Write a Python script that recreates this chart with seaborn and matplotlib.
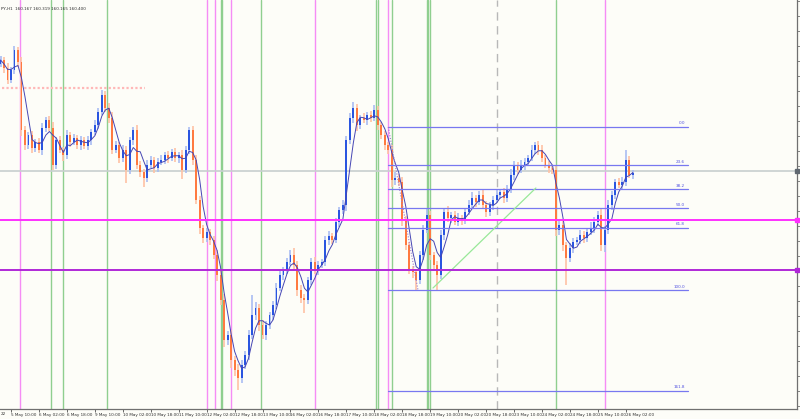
import numpy as np
import pandas as pd
import matplotlib
matplotlib.use("Agg")
import matplotlib.pyplot as plt
import seaborn as sns

# ---------------- data ----------------
header_text = "PY,H1  160.167 160.319 160.165 160.400"
edge_label = "22"
first_open = 162.45
bar_start_hour = -6      # hours from 5 May 10:00 of first 2h bar
bar_step = 2
closes = [
    162.52, 162.36, 162.12, 162.32, 162.72, 162.48, 161.12, 160.82, 161.02, 160.76,
    160.88, 160.72, 161.16, 161.32, 161.16, 160.42, 160.92, 160.72, 160.62, 161.02,
    160.88, 160.96, 160.82, 160.92, 160.80, 160.92, 161.08, 161.22, 161.48, 161.82,
    161.56, 161.36, 160.72, 160.82, 160.56, 160.72, 160.32, 160.92, 161.12, 160.42,
    160.28, 160.16, 160.42, 160.52, 160.36, 160.48, 160.52, 160.62, 160.56, 160.68,
    160.56, 160.62, 160.32, 160.72, 161.12, 160.52, 159.72, 159.16, 158.96, 159.08,
    158.92, 158.62, 158.22, 157.72, 156.92, 157.02, 156.52, 156.32, 156.16, 156.42,
    156.62, 157.02, 157.42, 157.56, 157.22, 157.02, 157.22, 157.42, 157.62, 157.96,
    158.22, 158.32, 158.48, 158.62, 158.42, 157.92, 157.76, 157.72, 158.12, 158.48,
    158.32, 158.42, 158.48, 158.92, 159.00, 158.92, 159.28, 159.52, 159.62, 160.92,
    161.36, 161.56, 161.22, 161.36, 161.32, 161.42, 161.36, 161.52, 161.22, 161.02,
    160.82, 160.72, 160.12, 160.16, 160.08, 159.32, 158.82, 158.32, 158.28, 158.12,
    158.62, 159.12, 159.42, 158.62, 158.42, 158.22, 159.02, 159.48, 159.36, 159.42,
    159.28, 159.36, 159.32, 159.48, 159.62, 159.76, 159.68, 159.82, 159.62, 159.48,
    159.62, 159.72, 159.82, 159.88, 159.76, 159.92, 160.22, 160.42, 160.32, 160.42,
    160.48, 160.56, 160.72, 160.82, 160.72, 160.56, 160.42, 160.36, 160.32, 159.12,
    159.22, 158.82, 158.56, 158.76, 158.88, 158.92, 159.02, 158.96, 159.08, 159.16,
    159.28, 159.42, 158.82, 159.12, 159.62, 159.82, 160.08, 160.02, 160.08, 160.52,
    160.22, 160.26,
]
wick_up = [  # hundredths of a yen above the body
    8, 6, 10, 6, 8, 6, 10, 8, 6, 8,
    6, 8, 10, 6, 8, 12, 6, 8, 6, 10,
    6, 8, 6, 8, 6, 8, 6, 10, 8, 10,
    8, 10, 12, 8, 6, 10, 8, 6, 6, 10,
    8, 6, 10, 8, 6, 8, 10, 6, 8, 6,
    8, 6, 10, 8, 6, 8, 10, 8, 6, 8,
    6, 8, 10, 8, 12, 8, 10, 8, 12, 10,
    8, 10, 40, 12, 8, 10, 8, 6, 8, 10,
    8, 6, 8, 10, 14, 8, 10, 8, 6, 8,
    10, 8, 6, 8, 10, 6, 8, 6, 10, 8,
    10, 12, 8, 6, 10, 6, 8, 10, 8, 6,
    8, 6, 10, 12, 8, 10, 8, 6, 8, 6,
    8, 10, 12, 8, 6, 8, 10, 8, 12, 6,
    8, 10, 6, 8, 10, 12, 6, 8, 10, 8,
    6, 8, 10, 6, 8, 10, 12, 8, 6, 10,
    8, 6, 10, 6, 8, 10, 6, 8, 6, 8,
    10, 8, 6, 10, 8, 6, 10, 8, 6, 12,
    10, 8, 14, 8, 10, 8, 6, 8, 10, 20,
    8, 6,
]
wick_dn = [  # hundredths of a yen below the body
    6, 10, 8, 6, 8, 10, 12, 10, 8, 10,
    8, 6, 10, 8, 6, 10, 8, 6, 12, 8,
    10, 6, 8, 10, 6, 8, 10, 6, 8, 6,
    8, 10, 8, 6, 10, 8, 26, 8, 10, 8,
    10, 18, 8, 6, 10, 8, 6, 8, 10, 6,
    8, 10, 18, 6, 8, 10, 8, 12, 10, 8,
    10, 8, 12, 10, 14, 10, 16, 12, 24, 10,
    8, 10, 8, 10, 12, 8, 10, 8, 10, 8,
    6, 10, 8, 6, 10, 12, 10, 26, 8, 10,
    8, 10, 6, 8, 10, 8, 6, 10, 8, 12,
    8, 10, 12, 8, 6, 10, 8, 6, 10, 8,
    10, 8, 14, 10, 8, 12, 10, 8, 12, 20,
    8, 10, 6, 10, 12, 30, 8, 10, 8, 10,
    6, 8, 10, 8, 6, 8, 10, 6, 8, 10,
    8, 10, 6, 8, 10, 8, 6, 10, 8, 6,
    10, 8, 6, 8, 10, 8, 6, 10, 8, 12,
    10, 12, 54, 8, 10, 6, 8, 10, 8, 6,
    10, 8, 12, 14, 8, 10, 8, 6, 10, 8,
    6, 8,
]
tick_labels = ["5 May 10:00", "6 May 02:00", "6 May 18:00", "9 May 10:00", "10 May 02:00",
               "10 May 18:00", "11 May 10:00", "12 May 02:00", "12 May 18:00", "13 May 10:00",
               "16 May 02:00", "16 May 18:00", "17 May 10:00", "18 May 02:00", "18 May 18:00",
               "19 May 10:00", "20 May 02:00", "20 May 18:00", "23 May 10:00", "24 May 02:00",
               "24 May 18:00", "25 May 10:00", "26 May 02:00"]
tick_hours = list(range(0, 16 * len(tick_labels), 16))
green_vlines = [23, 30, 55, 120, 121, 143, 209, 210, 218, 238, 239, 240, 312]
pink_vlines = [5, 112, 117, 126, 174, 216, 340]
dashed_vline = 278
fib_labels = ["0.0", "23.6", "38.2", "50.0", "61.8", "100.0", "161.8"]
fib_pcts = [0.0, 23.6, 38.2, 50.0, 61.8, 100.0, 161.8]
fib_high, fib_low = 161.18, 157.92
fib_start, fib_end = 216, 387.5
magenta_level = 159.32
purple_level = 158.32
bid_level = 160.30
dotted_level, dotted_from, dotted_to = 161.96, -5, 77
trend_hours = [241.6, 300.5]
trend_prices = [157.96, 159.96]
ma_period = 4
y_min, y_max = 155.54, 163.72
x_min, x_max = -6.3, 450

# ---------------- build table ----------------
n = len(closes)
hours = [bar_start_hour + bar_step * i for i in range(n)]
opens = [first_open] + closes[:-1]
df = pd.DataFrame({"hour": hours, "open": opens, "close": closes,
                   "up": wick_up, "dn": wick_dn})
df["top"] = df[["open", "close"]].max(axis=1)
df["bot"] = df[["open", "close"]].min(axis=1)
df["high"] = df["top"] + df["up"] / 100.0
df["low"] = df["bot"] - df["dn"] / 100.0
df["bull"] = df["close"] >= df["open"]
df["ma"] = df["close"].rolling(ma_period, min_periods=1).mean()

# ---------------- figure ----------------
sns.set_theme(style="white")
plt.rcParams["font.family"] = ["DejaVu Sans"]
bg = "#fdfdf8"
fig = plt.figure(figsize=(8.0, 4.19), dpi=100, facecolor=bg)
ax = fig.add_axes([0, 10 / 419, 797 / 800, 409 / 419])
ax.set_facecolor(bg)

# vertical event lines
for h in green_vlines:
    ax.axvline(h, color="#8fcf8f", lw=1.0, zorder=1)
for h in pink_vlines:
    ax.axvline(h, color="#f58cf5", lw=1.0, zorder=1)
ax.axvline(dashed_vline, color="#b8b8b8", lw=1.0, ls=(0, (6, 4)), zorder=1)

# bid line
ax.axhline(bid_level, color="#c8cfcf", lw=1.2, zorder=1)

# red dotted zone line
ax.plot([dotted_from, dotted_to], [dotted_level, dotted_level], color="#ffb8b8",
        lw=1.6, ls=(0, (1, 1)), zorder=2)

# candles
up_c, dn_c = "#2a55e0", "#ff7a40"
up_w, dn_w = "#a9bdf2", "#ffc2a4"
bull = df[df["bull"]]
bear = df[~df["bull"]]
ax.vlines(bull["hour"], bull["low"], bull["high"], color=up_w, lw=1.2, zorder=3)
ax.vlines(bear["hour"], bear["low"], bear["high"], color=dn_w, lw=1.2, zorder=3)
ax.bar(bull["hour"], (bull["top"] - bull["bot"]).clip(lower=0.02), bottom=bull["bot"],
       width=1.1, color=up_c, linewidth=0, zorder=4)
ax.bar(bear["hour"], (bear["top"] - bear["bot"]).clip(lower=0.02), bottom=bear["bot"],
       width=1.1, color=dn_c, linewidth=0, zorder=4)

# moving average
sns.lineplot(data=df, x="hour", y="ma", ax=ax, color="#4646b4", lw=0.7, zorder=5)

# fibonacci retracement
fib_color = "#7878f0"
fib_prices = [fib_high - (fib_high - fib_low) * p / 100.0 for p in fib_pcts]
for lab, pr in zip(fib_labels, fib_prices):
    ax.plot([fib_start, fib_end], [pr, pr], color=fib_color, lw=0.9, zorder=6)
    ax.text(fib_end - 1.5, pr + 0.03, lab, color="#5050e0", fontsize=3,
            ha="right", va="bottom", zorder=7)
ax.plot([fib_start, 233], [fib_high, fib_low], color="#9a7ad0", lw=0.8,
        ls=(0, (1, 1.5)), zorder=6)

# trend line
ax.plot(trend_hours, trend_prices, color="#98e898", lw=0.9, zorder=6)

# horizontal levels
ax.axhline(magenta_level, color="#ff30ff", lw=1.4, zorder=8)
ax.axhline(purple_level, color="#b028d8", lw=1.4, zorder=8)
for lvl, col in [(magenta_level, "#ff30ff"), (purple_level, "#b028d8"), (bid_level, "#606870")]:
    ax.plot([x_max], [lvl], marker="s", ms=2.2, color=col, clip_on=False, zorder=9)

# axes styling
ax.set_xlim(x_min, x_max)
ax.set_ylim(y_min, y_max)
ax.set_xlabel("")
ax.set_ylabel("")
for s in ["top", "left"]:
    ax.spines[s].set_visible(False)
for s in ["bottom", "right"]:
    ax.spines[s].set_color("#707070")
    ax.spines[s].set_linewidth(0.9)
ax.set_xticks(tick_hours)
ax.set_xticklabels(tick_labels, fontsize=3, color="#303030")
for lab in ax.get_xticklabels():
    lab.set_horizontalalignment("left")
ax.tick_params(axis="x", direction="out", length=2, width=0.6, pad=1, colors="#505050",
               labelcolor="#303030", bottom=True)
ax.set_yticks(np.arange(155.6, 163.8, 0.3))
ax.yaxis.tick_right()
ax.tick_params(axis="y", direction="out", length=2, width=0.6, colors="#707070",
               labelright=False, right=True, left=False)

fig.text(0.001, 0.978, header_text, fontsize=3, color="#303030", ha="left", va="center")
fig.text(1 / 800, 5 / 419, edge_label, fontsize=3, color="#303030", ha="left", va="center")

fig.savefig("out.png", dpi=100, facecolor=bg)
